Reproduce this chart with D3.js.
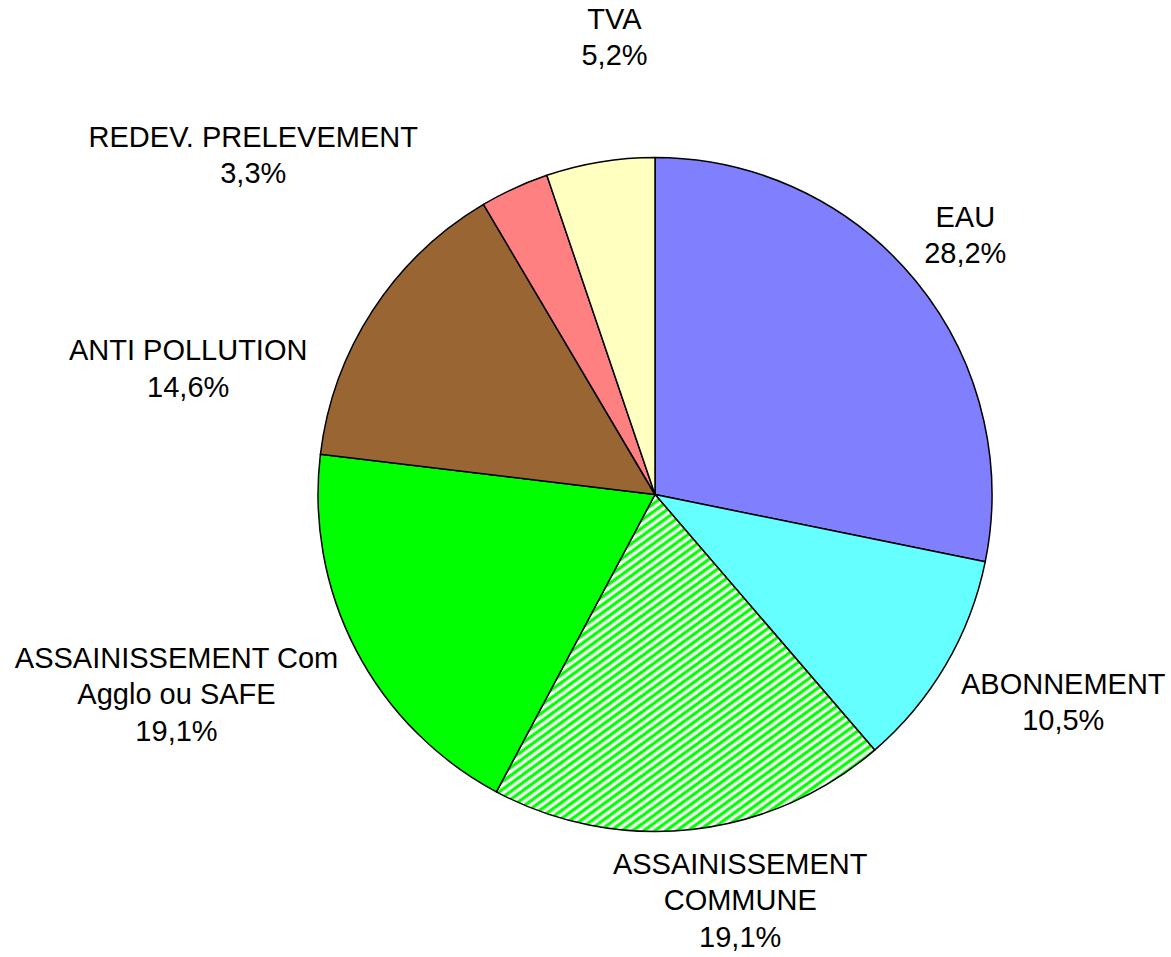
<!DOCTYPE html>
<html>
<head>
<meta charset="utf-8">
<script src="https://cdn.jsdelivr.net/npm/d3@7"></script>
<style>
  body { margin: 0; background: #fff; }
  text { font-family: "Liberation Sans", Arial, sans-serif; font-size: 29px; fill: #000; }
</style>
</head>
<body>
<div id="chart"></div>
<script>
const categories = ["EAU", "ABONNEMENT", "ASSAINISSEMENT COMMUNE", "ASSAINISSEMENT Com Agglo ou SAFE",
    "ANTI POLLUTION", "REDEV. PRELEVEMENT", "TVA"];
const values = [28.2, 10.5, 19.1, 19.1, 14.6, 3.3, 5.2];
const labelLines = [["EAU"], ["ABONNEMENT"], ["ASSAINISSEMENT", "COMMUNE"],
    ["ASSAINISSEMENT Com", "Agglo ou SAFE"], ["ANTI POLLUTION"], ["REDEV. PRELEVEMENT"], ["TVA"]];

const colors = ["#8080ff", "#66ffff", "url(#hatch)", "#00ff00", "#996633", "#ff8080", "#ffffc0"];
// label nudges from the radial anchor (layout only)
const nudge = {
    "EAU": [-16, 7], "ABONNEMENT": [45, -6], "ASSAINISSEMENT COMMUNE": [39, -13],
    "ASSAINISSEMENT Com Agglo ou SAFE": [-105, 5], "ANTI POLLUTION": [-114, 104],
    "REDEV. PRELEVEMENT": [-226, 43], "TVA": [28, -42]
};

const width = 1171, height = 957, cx = 655, cy = 494.5, radius = 337;
const lineH = 36.5;

const svg = d3.select("#chart")
    .append("svg")
    .attr("width", width)
    .attr("height", height);

// diagonal green/white hatch
const pw = 11, ph = 8;
const pat = svg.append("defs").append("pattern")
    .attr("id", "hatch")
    .attr("patternUnits", "userSpaceOnUse")
    .attr("width", pw)
    .attr("height", ph);
pat.append("rect").attr("width", pw).attr("height", ph).attr("fill", "#fff");
const k = ph / pw;
pat.append("path")
    .attr("d", `M-1,${ph + k} L${pw + 1},${-k} M-1,${k} L1,${-k} M${pw - 1},${ph + k} L${pw + 1},${ph - k}`)
    .attr("stroke", "#00ff00")
    .attr("stroke-width", 3.4);

const data = categories.map((c, i) => ({name: c, value: values[i], lines: labelLines[i], color: colors[i]}));

const pie = d3.pie().sort(null).value(d => d.value);
const arc = d3.arc().innerRadius(0).outerRadius(radius);
const labelArc = d3.arc().innerRadius(radius * 1.25).outerRadius(radius * 1.25);

const g = svg.append("g").attr("transform", `translate(${cx}, ${cy})`);
const arcs = pie(data);

g.selectAll("path.slice")
    .data(arcs)
    .enter()
    .append("path")
    .attr("class", "slice")
    .attr("d", arc)
    .attr("fill", d => d.data.color)
    .attr("stroke", "#000")
    .attr("stroke-width", 1.5)
    .attr("stroke-linejoin", "round");

const labels = g.selectAll("text.lbl")
    .data(arcs)
    .enter()
    .append("text")
    .attr("class", "lbl")
    .attr("text-anchor", "middle")
    .attr("transform", function (d) {
        const c = labelArc.centroid(d);
        const n = nudge[d.data.name] || [0, 0];
        return `translate(${c[0] + n[0]}, ${c[1] + n[1]})`;
    });

labels.each(function (d) {
    const t = d3.select(this);
    const lines = d.data.lines.concat([d.data.value.toFixed(1).replace(".", ",") + "%"]);
    const top = -(lines.length - 1) * lineH / 2;
    lines.forEach(function (l, i) {
        t.append("tspan")
            .attr("x", 0)
            .attr("y", top + i * lineH)
            .attr("dy", "0.35em")
            .text(l);
    });
});
</script>
</body>
</html>
